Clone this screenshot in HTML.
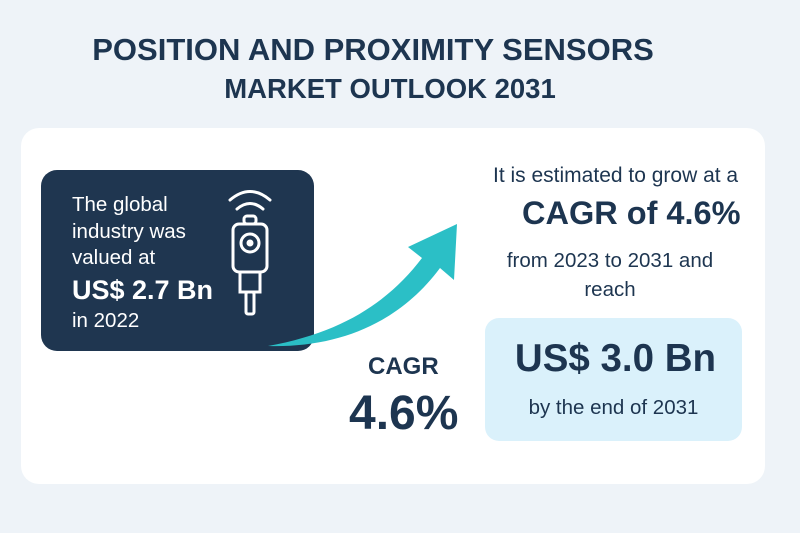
<!DOCTYPE html>
<html><head><meta charset="utf-8"><style>
*{margin:0;padding:0;box-sizing:border-box}
body{width:800px;height:533px;background:#eef3f8;font-family:"Liberation Sans",sans-serif;position:relative;overflow:hidden;color:#1d3550}
.a{position:absolute;white-space:nowrap}
</style></head><body>
<div class="a" style="left:0;width:746px;text-align:center;top:32px;font-size:31px;font-weight:bold;">POSITION AND PROXIMITY SENSORS</div>
<div class="a" style="left:0;width:780px;text-align:center;top:73px;font-size:27.5px;font-weight:bold;">MARKET OUTLOOK 2031</div>
<div class="a" style="left:21px;top:128px;width:744px;height:356px;background:#fff;border-radius:18px"></div>
<div class="a" style="left:41px;top:170px;width:273px;height:181px;background:#1f3650;border-radius:16px"></div>
<div class="a" style="left:72px;top:192px;color:#fff;font-size:20.5px;line-height:26.5px">The global<br>industry was<br>valued at<br><span style="font-size:27px;font-weight:bold;line-height:36px">US$ 2.7 Bn</span><br>in 2022</div>
<svg class="a" style="left:220px;top:185px" width="60" height="135" viewBox="0 0 60 135" fill="none" stroke="#fff" stroke-width="3" stroke-linecap="round">
<path d="M10 15 Q30 -2 50 15"/><path d="M17 24 Q30 13 43 24"/>
<rect x="24" y="31" width="12" height="8" rx="3"/>
<rect x="13" y="39" width="34" height="48" rx="6"/>
<circle cx="30" cy="58" r="9"/><circle cx="30" cy="58" r="2" fill="#fff"/>
<rect x="20" y="87" width="20" height="20"/>
<rect x="26" y="107" width="8" height="22" rx="2"/>
</svg>
<svg class="a" style="left:0;top:0" width="800" height="533">
<path d="M268 346 C345 332 390 300 422 258 L408 247 L457 224 L454 280 L440 268 C400 322 340 348 268 346 Z" fill="#2bbfc6"/>
</svg>
<div class="a" style="left:368px;top:353px;font-size:24px;font-weight:bold">CAGR</div>
<div class="a" style="left:349px;top:386px;font-size:48px;font-weight:bold">4.6%</div>
<div class="a" style="left:493px;top:164px;font-size:21px">It is estimated to grow at a</div>
<div class="a" style="left:522px;top:195px;font-size:32.5px;font-weight:bold">CAGR of 4.6%</div>
<div class="a" style="left:470px;width:280px;text-align:center;top:246px;font-size:20.5px;line-height:29px">from 2023 to 2031 and<br>reach</div>
<div class="a" style="left:485px;top:318px;width:257px;height:123px;background:#daf1fb;border-radius:14px"></div>
<div class="a" style="left:487px;width:257px;text-align:center;top:337px;font-size:38.5px;font-weight:bold">US$ 3.0 Bn</div>
<div class="a" style="left:485px;width:257px;text-align:center;top:396px;font-size:20.5px">by the end of 2031</div>
</body></html>
